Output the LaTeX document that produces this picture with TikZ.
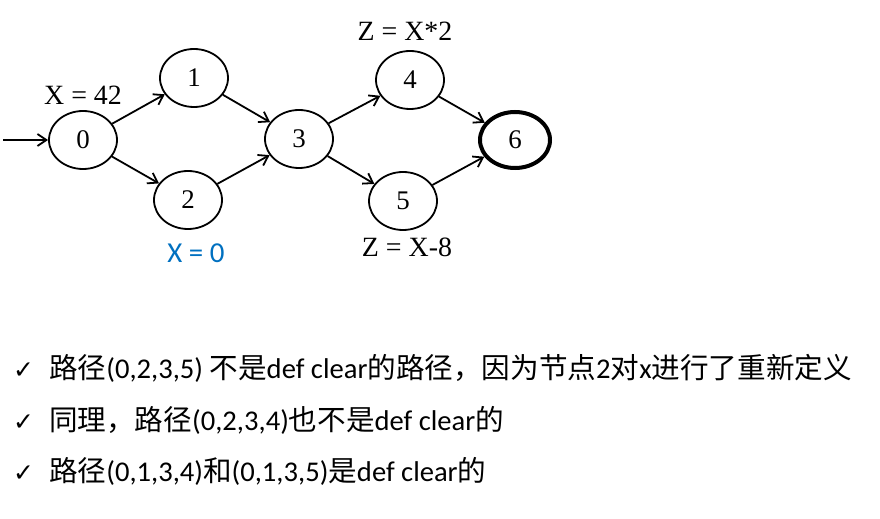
\documentclass[tikz,border=0pt]{standalone}
\usepackage{fontspec}
\setmainfont{Liberation Serif}
\newfontfamily\calfont{Carlito}
\newfontfamily\cjkfont{Noto Sans CJK SC}
\newfontfamily\dvfont{DejaVu Sans}
\usetikzlibrary{shapes.geometric,arrows.meta}
\definecolor{lblblue}{RGB}{0,112,192}
\begin{document}
\begin{tikzpicture}[x=1bp,y=-1bp,
  st/.style={ellipse, draw, line width=1.8bp, minimum width=68bp, minimum height=58bp, inner sep=0pt, font=\fontsize{27}{30}\selectfont},
  fin/.style={st, line width=4bp, minimum width=70bp, minimum height=56bp},
  arr/.style={line width=1.8bp, -{Straight Barb[length=9bp,width=12bp]}},
  lbl/.style={font=\fontsize{28}{30}\selectfont, inner sep=0pt},
  blbl/.style={font=\calfont\fontsize{29}{30}\selectfont, text=lblblue, inner sep=0pt},
  txt/.style={anchor=base west, inner sep=0pt, font=\fontsize{28.7}{30}\selectfont},
  chk/.style={anchor=base west, inner sep=0pt, font=\dvfont\fontsize{25}{27}\selectfont}
]
\useasboundingbox (0,0) rectangle (880,519);
\node[st] (n0) at (83,140) {0};
\node[st] (n1) at (194,78) {1};
\node[st] (n2) at (188,200) {2};
\node[st] (n3) at (299,139) {3};
\node[st] (n4) at (410,80) {4};
\node[st] (n5) at (403,201) {5};
\node[fin] (n6) at (515,140) {6};
\coordinate (start) at (3,140);
\draw[arr] (start) -- (n0);
\draw[arr] (n0) -- (n1);
\draw[arr] (n0) -- (n2);
\draw[arr] (n1) -- (n3);
\draw[arr] (n2) -- (n3);
\draw[arr] (n3) -- (n4);
\draw[arr] (n3) -- (n5);
\draw[arr] (n4) -- (n6);
\draw[arr] (n5) -- (n6);
\node[lbl] (l0) at (83,95) {X = 42};
\node[blbl] (l2) at (196,253) {X = 0};
\node[lbl] (l4) at (405,31) {Z = X*2};
\node[lbl] (l5) at (407,247) {Z = X-8};
\node[chk] (c1) at (13,378) {✓};
\node[chk] (c2) at (13,430) {✓};
\node[chk] (c3) at (13,481) {✓};
\node[txt] (t1) at (49,378) {\cjkfont 路径\calfont(0,2,3,5) \cjkfont 不是\calfont def clear\cjkfont 的路径，因为节点\calfont 2\cjkfont 对\calfont x\cjkfont 进行了重新定义};
\node[txt] (t2) at (49,430) {\cjkfont 同理，路径\calfont(0,2,3,4)\cjkfont 也不是\calfont def clear\cjkfont 的};
\node[txt] (t3) at (49,481) {\cjkfont 路径\calfont(0,1,3,4)\cjkfont 和\calfont(0,1,3,5)\cjkfont 是\calfont def clear\cjkfont 的};
\end{tikzpicture}
\end{document}
